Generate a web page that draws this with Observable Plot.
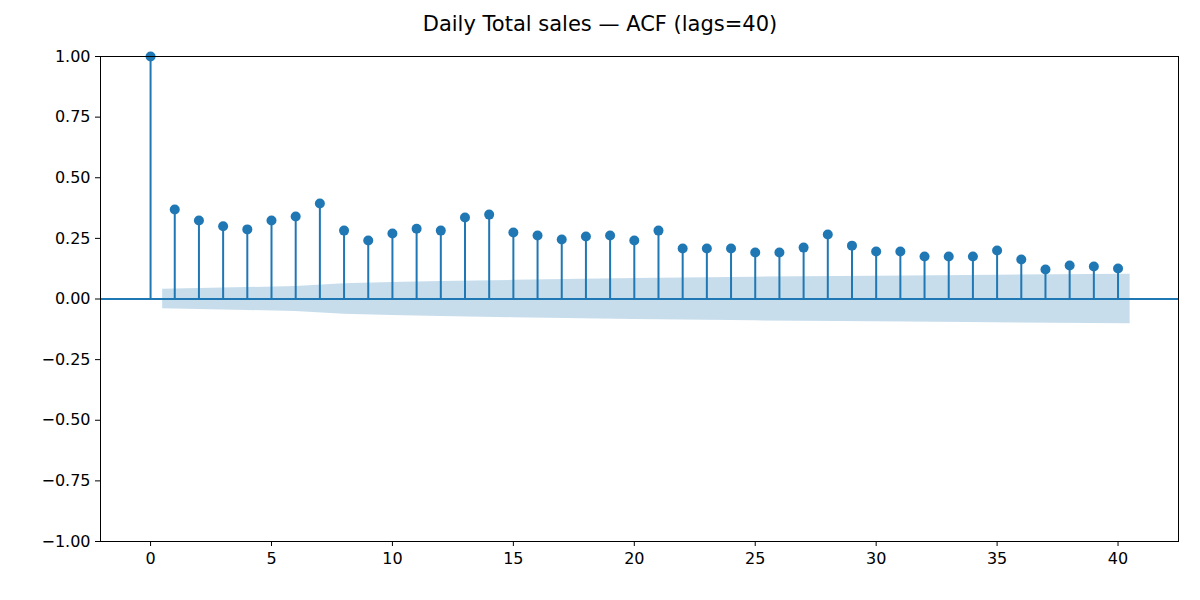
<!DOCTYPE html>
<html><head><meta charset="utf-8">
<script src="https://cdn.jsdelivr.net/npm/d3@7"></script>
<script src="https://cdn.jsdelivr.net/npm/@observablehq/plot@0.6"></script>
<style>
body{margin:0;background:#fff;font-family:"DejaVu Sans",sans-serif}
#title{height:40px;text-align:center;font-size:21px;line-height:48px;color:#000}
</style></head>
<body>
<div id="title">Daily Total sales — ACF (lags=40)</div>
<div id="chart"></div>
<script>
// ACF values, lag 0..40
const lags = d3.range(0, 41);
const acf = [1.0, 0.369, 0.324, 0.300, 0.287, 0.324, 0.340, 0.394, 0.282, 0.241, 0.270,
  0.290, 0.282, 0.336, 0.348, 0.274, 0.262, 0.245, 0.258, 0.262, 0.241,
  0.282, 0.208, 0.208, 0.208, 0.192, 0.192, 0.212, 0.266, 0.220, 0.196,
  0.196, 0.175, 0.175, 0.175, 0.200, 0.163, 0.122, 0.138, 0.134, 0.126];
// confidence band half-width, positions
const bandX = [0.5, 2, 4, 6, 8, 10, 12, 15, 20, 25, 30, 35, 40.5];
const bandW = [0.040, 0.043, 0.047, 0.052, 0.063, 0.068, 0.072, 0.077, 0.085, 0.090, 0.094, 0.098, 0.102];

const data = lags.map((l, i) => ({lag: l, v: acf[i]}));
const band = bandX.map((x, i) => ({x, lo: -bandW[i], hi: bandW[i]}));
const blue = "#1f77b4";

const chart = Plot.plot({
  width: 1200, height: 560,
  marginLeft: 100, marginRight: 22, marginTop: 16, marginBottom: 59,
  style: {fontSize: "16px", fontFamily: "DejaVu Sans, sans-serif", color: "#000"},
  x: {domain: [-2.07, 42.5], ticks: [0,5,10,15,20,25,30,35,40], label: null, tickSize: 5, tickPadding: 6},
  y: {domain: [-1, 1], ticks: d3.range(-1, 1.01, 0.25), tickFormat: d => d3.format(".2f")(d).replace("-", "−"), label: null, tickSize: 5, tickPadding: 5},
  marks: [
    Plot.areaY(band, {x: "x", y1: "lo", y2: "hi", fill: blue, fillOpacity: 0.25}),
    Plot.ruleY([0], {stroke: blue, strokeWidth: 2}),
    Plot.ruleX(data, {x: "lag", y1: 0, y2: "v", stroke: blue, strokeWidth: 2}),
    Plot.dot(data, {x: "lag", y: "v", fill: blue, r: 5}),
    Plot.frame({stroke: "#000"})
  ]
});
d3.select('#chart').append(() => chart);
</script>
</body></html>
